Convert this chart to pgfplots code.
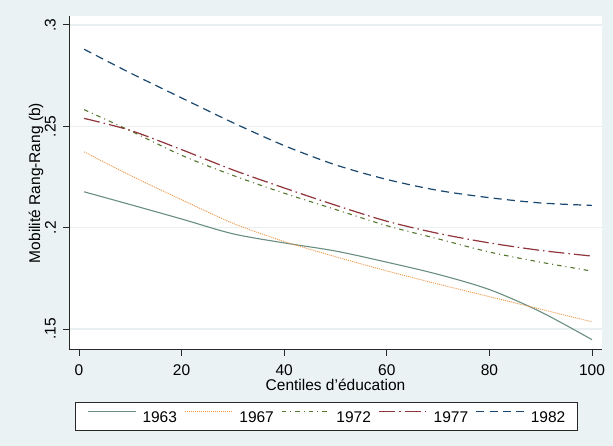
\documentclass[border=0pt]{standalone}
\usepackage{fontspec}
\setmainfont{Liberation Sans}
\usepackage{graphicx}
\usepackage{pgfplots}
\pgfplotsset{compat=1.18}

\definecolor{bgcol}{RGB}{234,242,243}
\definecolor{gridcol}{RGB}{234,240,242}
\definecolor{axcol}{RGB}{40,40,40}
\definecolor{c63}{RGB}{106,142,130}
\definecolor{c67}{RGB}{236,150,70}
\definecolor{c72}{RGB}{85,117,47}
\definecolor{c77}{RGB}{144,53,59}
\definecolor{c82}{RGB}{26,71,111}

\newcommand{\chartfont}{\fontsize{15.5}{18}\selectfont}
\newcommand{\vlab}[1]{\rotatebox{90}{#1}}
\newcommand{\entry}[1]{\hspace*{6pt}#1\hspace*{7.5pt}}

\begin{document}
\begin{tikzpicture}[x=1pt,y=1pt]
\fill[bgcol] (0,0) rectangle (613,446);
\begin{axis}[
  at={(69pt,96pt)}, anchor=south west,
  scale only axis, width=533pt, height=334pt,
  xmin=-1.95, xmax=101.95, ymin=0.1397, ymax=0.3044,
  axis x line*=bottom, axis y line*=left,
  axis line style={axcol, line width=1pt, -},
  axis background/.style={fill=white},
  xtick={0,20,40,60,80,100}, xticklabels={0,20,40,60,80,100},
  ytick={0.15,0.2,0.25,0.3},
  yticklabels={\vlab{.15},\vlab{.2},\vlab{.25},\vlab{.3}},
  tick align=outside, major tick length=6pt,
  tick style={axcol, line width=1pt},
  ymajorgrids, grid style={gridcol, line width=1.4pt},
  tick label style={font=\chartfont, inner sep=0pt},
  xticklabel style={anchor=north},
  xticklabel shift=8pt,
  yticklabel style={anchor=east},
  yticklabel shift=7pt,
  label style={font=\chartfont, inner sep=0pt},
  xlabel={Centiles d'éducation},
  xlabel style={at={(axis description cs:0.5,-0.1219)}, anchor=base},
  ylabel={Mobilité Rang-Rang (b)},
  ylabel style={at={(axis description cs:-0.0544,0.5)}, anchor=base},
  legend columns=5,
  legend style={at={(axis description cs:0.01126,-0.1548)}, anchor=north west,
    draw=axcol, line width=0.8pt, fill=white, font=\chartfont,
    inner xsep=12pt, inner ysep=8.5pt, column sep=0pt,
    nodes={inner sep=0pt, text height=11.2pt, text depth=0pt}},
  legend image code/.code={\draw[#1] (0pt,5.5pt) -- (48pt,5.5pt);},
]
% 1963
\addplot[c63, line width=1.1pt, smooth] coordinates {
  (1,0.2177) (10,0.2114) (20,0.2043) (30,0.1970) (40,0.1925) (50,0.1885)
  (60,0.1830) (70,0.1770) (80,0.1695) (90,0.1585) (100,0.1448)};
\addlegendentry{\entry{1963}}
% 1967
\addplot[c67, line width=0.9pt, dash pattern=on 1pt off 1pt, smooth] coordinates {
  (1,0.2374) (10,0.2258) (20,0.2138) (30,0.2022) (40,0.1932) (50,0.1857)
  (60,0.1787) (70,0.1722) (80,0.1660) (90,0.1598) (100,0.1536)};
\addlegendentry{\entry{1967}}
% 1972
\addplot[c72, line width=1.1pt, dash pattern=on 4.5pt off 4pt on 1pt off 4pt, smooth] coordinates {
  (1,0.2582) (10,0.2478) (20,0.2357) (30,0.2258) (40,0.2170) (50,0.2090)
  (60,0.2010) (70,0.1945) (80,0.1880) (90,0.1830) (100,0.1786)};
\addlegendentry{\entry{1972}}
% 1977
\addplot[c77, line width=1.2pt, dash pattern=on 16pt off 4pt on 1.5pt off 4pt, smooth] coordinates {
  (1,0.2539) (10,0.2480) (20,0.2385) (30,0.2285) (40,0.2196) (50,0.2111)
  (60,0.2032) (70,0.1972) (80,0.1925) (90,0.1888) (100,0.1860)};
\addlegendentry{\entry{1977}}
% 1982
\addplot[c82, line width=1.2pt, dash pattern=on 8pt off 5.3pt, smooth] coordinates {
  (1,0.2880) (10,0.2763) (20,0.2640) (30,0.2518) (40,0.2405) (50,0.2310)
  (60,0.2238) (70,0.2184) (80,0.2148) (90,0.2122) (100,0.2110)};
\addlegendentry{\hspace*{6pt}1982}
\end{axis}
\pgfresetboundingbox
\path (0,0) rectangle (613,446);
\end{tikzpicture}
\end{document}
